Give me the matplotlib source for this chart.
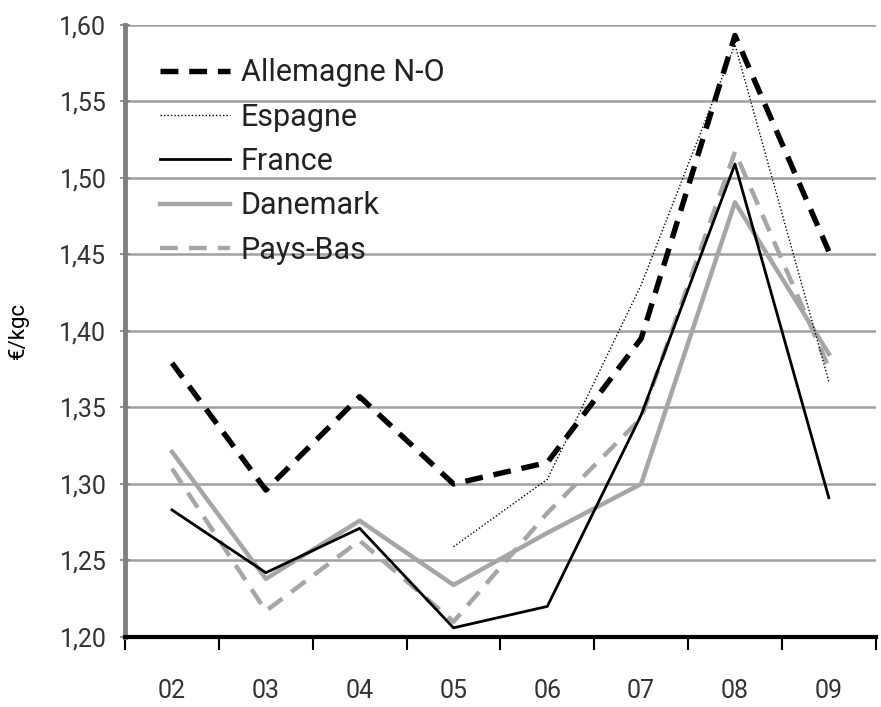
import numpy as np
import matplotlib
matplotlib.use("Agg")
import matplotlib.pyplot as plt

plt.rcParams["font.family"] = ["Roboto", "DejaVu Sans"]

years = ["02", "03", "04", "05", "06", "07", "08", "09"]
allemagne = [1.379, 1.296, 1.357, 1.300, 1.314, 1.395, 1.593, 1.452]
espagne = [np.nan, np.nan, np.nan, 1.259, 1.303, 1.430, 1.587, 1.367]
france = [1.283, 1.242, 1.271, 1.206, 1.220, 1.345, 1.509, 1.291]
danemark = [1.321, 1.238, 1.276, 1.234, 1.268, 1.300, 1.484, 1.385]
pays_bas = [1.310, 1.217, 1.263, 1.210, 1.281, 1.343, 1.517, 1.376]
yticks = [1.20, 1.25, 1.30, 1.35, 1.40, 1.45, 1.50, 1.55, 1.60]

fig = plt.figure(figsize=(8.81, 7.07), dpi=100)
ax = fig.add_axes([0.142, 0.099, 0.852, 0.866])

x = np.arange(len(years))
gray = "#a6a6a6"
ax.plot(x, danemark, color=gray, lw=3.2, label="Danemark", zorder=3)
ax.plot(x, pays_bas, color=gray, lw=3.2, dashes=(4, 2.5), label="Pays-Bas", zorder=3)
ax.plot(x, france, color="black", lw=2.0, label="France", zorder=4)
ax.plot(x, espagne, color="black", lw=1.0, dashes=(1, 1.5), label="Espagne", zorder=4)
ax.plot(x, allemagne, color="black", lw=3.9, dashes=(3.3, 2.0), label="Allemagne N-O", zorder=5)

ax.set_xlim(-0.5, len(years) - 0.5)
ax.set_ylim(1.20, 1.60)
ax.set_yticks(yticks)
ax.set_yticklabels([f"{v:.2f}".replace(".", ",") for v in yticks])
ax.set_xticks(x)
ax.set_xticklabels(years)
ax.set_xticks(np.arange(-0.5, len(years)), minor=True)
ax.tick_params(axis="x", which="major", length=0, pad=30, labelsize=18, labelcolor="#333333")
ax.tick_params(axis="x", which="minor", length=9, width=1.5, color="black", direction="out")
ax.tick_params(axis="y", length=7, width=1.2, color="#808080", direction="inout",
               labelsize=18, labelcolor="#333333", pad=10)

ax.grid(axis="y", color="#a0a0a0", lw=1.8, zorder=0)
ax.set_axisbelow(True)
for s in ["top", "right"]:
    ax.spines[s].set_visible(False)
ax.spines["left"].set_color("#808080")
ax.spines["left"].set_linewidth(3.5)
ax.spines["bottom"].set_color("black")
ax.spines["bottom"].set_linewidth(3)
ax.spines["bottom"].set_zorder(6)

ax.set_ylabel("€/kgc", fontsize=16)
ax.yaxis.set_label_coords(-0.128, 0.5)

h, l = ax.get_legend_handles_labels()
order = [4, 3, 2, 0, 1]
leg = ax.legend([h[i] for i in order], [l[i] for i in order], loc="upper left",
                bbox_to_anchor=(0.03, 0.965), frameon=False, fontsize=22,
                handlelength=2.3, handletextpad=0.35, labelspacing=0.5, borderaxespad=0)
for t in leg.get_texts():
    t.set_color("#222222")

fig.savefig("out.png", dpi=100)
